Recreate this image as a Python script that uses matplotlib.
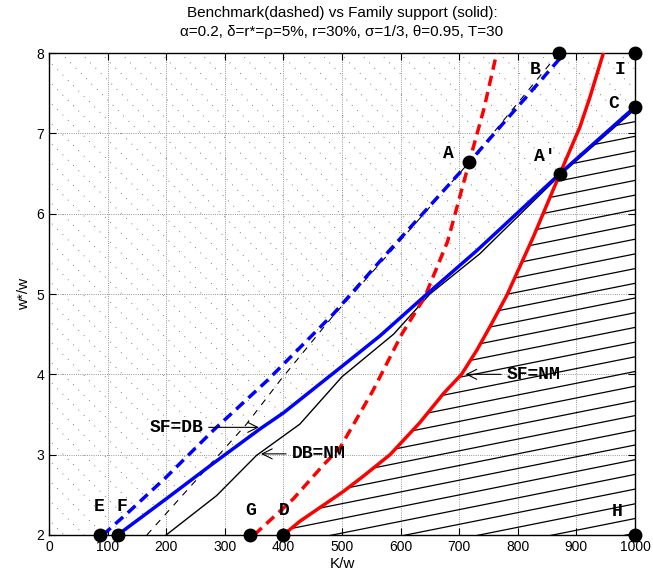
import numpy as np
import matplotlib.pyplot as plt
from matplotlib.patches import Polygon

# Benchmark (dashed) curves
bench_db_x = [92, 138, 200, 280, 372, 485, 582, 717, 880]          # blue dashed
bench_db_y = [2.0, 2.3, 2.72, 3.30, 3.92, 4.75, 5.55, 6.64, 8.0]
bench_nm_x = [350, 417, 468, 497, 553, 602, 641, 680, 717, 742, 764]  # red dashed
bench_nm_y = [2.0, 2.45, 2.87, 3.09, 3.8, 4.5, 4.96, 5.65, 6.64, 7.3, 8.0]
bench_thin_x = [167, 337, 394, 485, 582, 717, 870]                  # thin black dashed
bench_thin_y = [2.0, 3.38, 3.92, 4.73, 5.52, 6.64, 8.0]

# Family support (solid) curves
sf_db_x = [117, 200, 280, 360, 400, 500, 565, 645, 730, 872, 1000]   # blue solid
sf_db_y = [2.0, 2.45, 2.89, 3.32, 3.52, 4.1, 4.48, 5.0, 5.54, 6.5, 7.33]
sf_nm_x = [400, 428, 480, 502, 536, 582, 633, 673, 704, 730, 753, 781, 827, 872, 906, 923, 946]
sf_nm_y = [2.0, 2.17, 2.43, 2.54, 2.73, 3.0, 3.4, 3.76, 4.0, 4.3, 4.6, 4.98, 5.72, 6.5, 7.08, 7.45, 8.0]
db_nm_x = [200, 286, 354, 428, 500, 588, 650, 735, 872, 1000]       # thin black solid
db_nm_y = [2.0, 2.49, 2.99, 3.38, 3.97, 4.5, 5.0, 5.5, 6.48, 7.3]

# marked points
pt_names = ['E', 'F', 'G', 'D', 'H', 'I', 'B', 'C', 'A', 'A′']
pt_x = [87, 117, 343, 400, 1000, 1000, 870, 1000, 717, 872]
pt_y = [2, 2, 2, 2, 2, 8, 8, 7.33, 6.64, 6.5]
lab_x = [86, 124, 344, 401, 969, 974, 829, 964, 681, 846]
lab_y = [2.35, 2.35, 2.31, 2.31, 2.29, 7.8, 7.8, 7.37, 6.75, 6.71]

xticks = np.arange(0, 1001, 100)
yticks = np.arange(2, 9, 1)

plt.rcParams['font.family'] = ['Liberation Sans', 'DejaVu Sans']
mono = ['Liberation Mono', 'DejaVu Sans Mono']

fig = plt.figure(figsize=(6.53, 5.80), dpi=100)
ax = fig.add_axes([0.075, 0.0776, 0.8975, 0.831])
ax.set_xlim(0, 1000)
ax.set_ylim(2, 8)

# dotted hatch above the SF=DB curve
top_poly = np.column_stack([[0] + sf_db_x + [1000, 0], [2] + sf_db_y + [8, 8]])
clip_top = Polygon(top_poly, closed=True, transform=ax.transData, facecolor='none', edgecolor='none')
ax.add_patch(clip_top)
xs = np.array([-200, 1200])
for x0 in np.arange(-1000, 1900, 34):
    ln, = ax.plot(xs, 8 - 0.0073 * (xs - x0), color='0.3', lw=0.6,
                  linestyle=(0, (1, 8)), zorder=1)
    ln.set_clip_path(clip_top)

# solid hatch in the lower right region
sx = np.array(sf_nm_x); sy = np.array(sf_nm_y)
keep = sy <= 6.5
bx = np.array(sf_db_x); by = np.array(sf_db_y)
keep_b = bx >= 872
hx = list(sx[keep]) + [872] + list(bx[keep_b]) + [1000]
hy = list(sy[keep]) + [6.5] + list(by[keep_b]) + [2]
clip_low = Polygon(np.column_stack([hx, hy]), closed=True, transform=ax.transData,
                   facecolor='none', edgecolor='none')
ax.add_patch(clip_low)
for y0 in np.arange(-2, 8.5, 0.183):
    ln, = ax.plot(xs, y0 + 0.00146 * xs, color='black', lw=0.9, zorder=1)
    ln.set_clip_path(clip_low)

ax.grid(True, linestyle=':', color='0.45', lw=0.6)
ax.set_axisbelow(True)

# curves
ax.plot(bench_thin_x, bench_thin_y, color='black', lw=0.8, linestyle=(0, (6, 6)), zorder=3)
ax.plot(db_nm_x, db_nm_y, color='black', lw=1.0, zorder=3)
ax.plot(bench_db_x, bench_db_y, color='blue', lw=2.5, linestyle=(0, (3, 1.8)), zorder=4)
ax.plot(bench_nm_x, bench_nm_y, color='red', lw=2.5, linestyle=(0, (3, 1.8)), zorder=4)
ax.plot(sf_db_x, sf_db_y, color='blue', lw=2.5, zorder=4)
ax.plot(sf_nm_x, sf_nm_y, color='red', lw=2.5, zorder=4)

ax.plot(pt_x, pt_y, 'o', color='black', ms=9, clip_on=False, zorder=6)
for name, x, y in zip(pt_names, lab_x, lab_y):
    ax.text(x, y, name, family=mono, fontweight='bold', fontsize=13,
            ha='center', va='center', zorder=6)

arrow = dict(arrowstyle='->', color='black', lw=0.8, mutation_scale=18)
ax.annotate('SF=DB', xy=(363, 3.34), xytext=(263, 3.34), family=mono, fontweight='bold',
            fontsize=13, ha='right', va='center', arrowprops=arrow, zorder=6)
ax.annotate('DB=NM', xy=(357, 3.01), xytext=(414, 3.01), family=mono, fontweight='bold',
            fontsize=13, ha='left', va='center', arrowprops=arrow, zorder=6)
ax.annotate('SF=NM', xy=(706, 4.0), xytext=(781, 4.0), family=mono, fontweight='bold',
            fontsize=13, ha='left', va='center', arrowprops=arrow, zorder=6)

ax.set_xticks(xticks)
ax.set_yticks(yticks)
ax.tick_params(direction='in', top=True, right=True, length=5, labelsize=10)
for s in ax.spines.values():
    s.set_linewidth(1.0)
ax.set_xlabel('K/w', fontsize=11, labelpad=2)
ax.set_ylabel('w*/w', fontsize=11, labelpad=4)
ax.set_title('Benchmark(dashed) vs Family support (solid):\n'
             'α=0.2, δ=r*=ρ=5%, r=30%, σ=1/3, θ=0.95, T=30', fontsize=11, pad=12,
             linespacing=1.5)

plt.savefig('out.png', dpi=100)
